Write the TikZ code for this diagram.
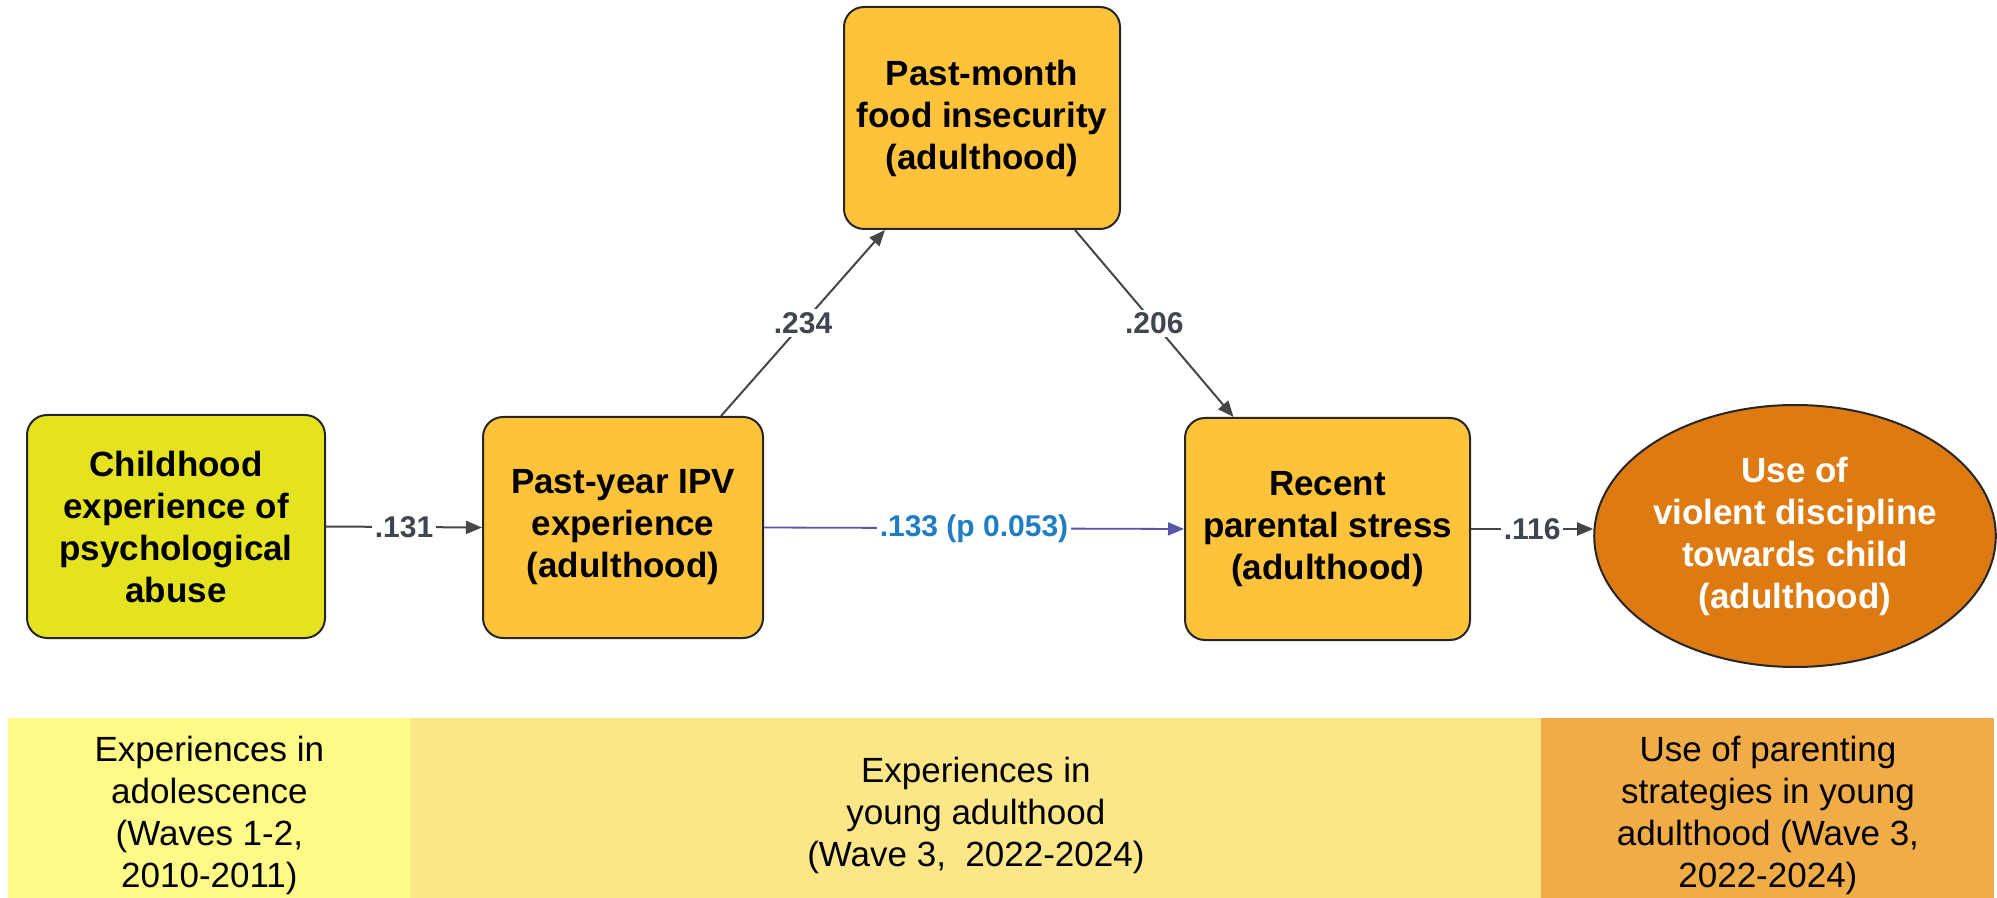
\documentclass[tikz,border=0pt]{standalone}
\usepackage{fontspec}
\setmainfont{Liberation Sans}
\usetikzlibrary{arrows.meta,shapes.geometric,calc}
\definecolor{childfill}{RGB}{229,227,32}
\definecolor{boxorange}{RGB}{254,195,58}
\definecolor{ellfill}{RGB}{221,122,17}
\definecolor{bandA}{RGB}{255,250,135}
\definecolor{bandB}{RGB}{251,230,136}
\definecolor{bandC}{RGB}{240,172,70}
\definecolor{arrowgray}{RGB}{70,70,70}
\definecolor{lblgray}{RGB}{64,70,80}
\definecolor{blueline}{RGB}{90,85,170}
\definecolor{bluelbl}{RGB}{30,125,195}
\begin{document}
\begin{tikzpicture}[x=0.5pt,y=-0.5pt,
  varbox/.style={draw=black!85, line width=1pt, rounded corners=10pt, fill=boxorange,
    align=center, inner sep=0pt, font=\bfseries\fontsize{17.5}{21}\selectfont},
  link/.style={draw=arrowgray, line width=1pt, -{Triangle[length=8pt,width=6.5pt]}},
  bluelink/.style={draw=blueline, line width=0.9pt, -{Triangle[length=8pt,width=6.5pt]}},
  lbl/.style={fill=white, inner sep=1.5pt, text=lblgray, font=\bfseries\fontsize{15}{18}\selectfont},
  bandbox/.style={anchor=north west, inner sep=0pt, minimum height=90pt},
  bandtext/.style={align=center, inner sep=0pt, yshift=-3.5pt, font=\fontsize{17.5}{21}\selectfont}
]
\useasboundingbox (0,0) rectangle (1997,898);

% nodes
\node[varbox, fill=childfill, minimum width=149pt, minimum height=111.5pt] (child) at (176,526.5)
  {Childhood\\experience of\\psychological\\abuse};
\node[varbox, minimum width=140pt, minimum height=110.5pt] (ipv) at (623,527.5)
  {Past-year IPV\\experience\\(adulthood)};
\node[varbox, minimum width=138pt, minimum height=111pt] (food) at (982,118)
  {Past-month\\food insecurity\\(adulthood)};
\node[varbox, minimum width=142.5pt, minimum height=111pt] (stress) at (1327.5,529)
  {Recent\\parental stress\\(adulthood)};
\node[ellipse, draw=black!85, line width=1pt, fill=ellfill, text=white, align=center,
  inner sep=0pt, minimum width=200pt, minimum height=131pt,
  font=\bfseries\fontsize{17.5}{21}\selectfont] (use) at (1795,536)
  {Use of\\violent discipline\\towards child\\(adulthood)};

% connectors
\draw[link] (child.east) -- node[lbl, midway] {.131} (ipv.west);
\draw[bluelink] (ipv.east) -- node[lbl, midway, text=bluelbl] {.133 (p 0.053)} (stress.west);
\draw[link] (stress.east) -- node[lbl, midway] {.116} (stress.east -| use.west);
\draw[link] ([xshift=49pt]ipv.north) -- node[lbl, midway] {.234} ([xshift=-48.5pt]food.south);
\draw[link] ([xshift=46.5pt]food.south) -- node[lbl, midway] {.206} ([xshift=-47pt]stress.north);

% bottom bands
\node[bandbox, fill=bandA, minimum width=201pt] (bandone) at (8,718) {};
\node[bandbox, fill=bandB, minimum width=565.5pt] (bandtwo) at (410,718) {};
\node[bandbox, fill=bandC, minimum width=226.5pt] (bandthree) at (1541,718) {};
\node[bandtext] (textone) at (bandone.center)
  {Experiences in\\adolescence\\(Waves 1-2,\\2010-2011)};
\node[bandtext] (texttwo) at (bandtwo.center)
  {Experiences in\\young adulthood\\(Wave 3,\ \ 2022-2024)};
\node[bandtext] (textthree) at (bandthree.center)
  {Use of parenting\\strategies in young\\adulthood (Wave 3,\\2022-2024)};
\end{tikzpicture}
\end{document}
